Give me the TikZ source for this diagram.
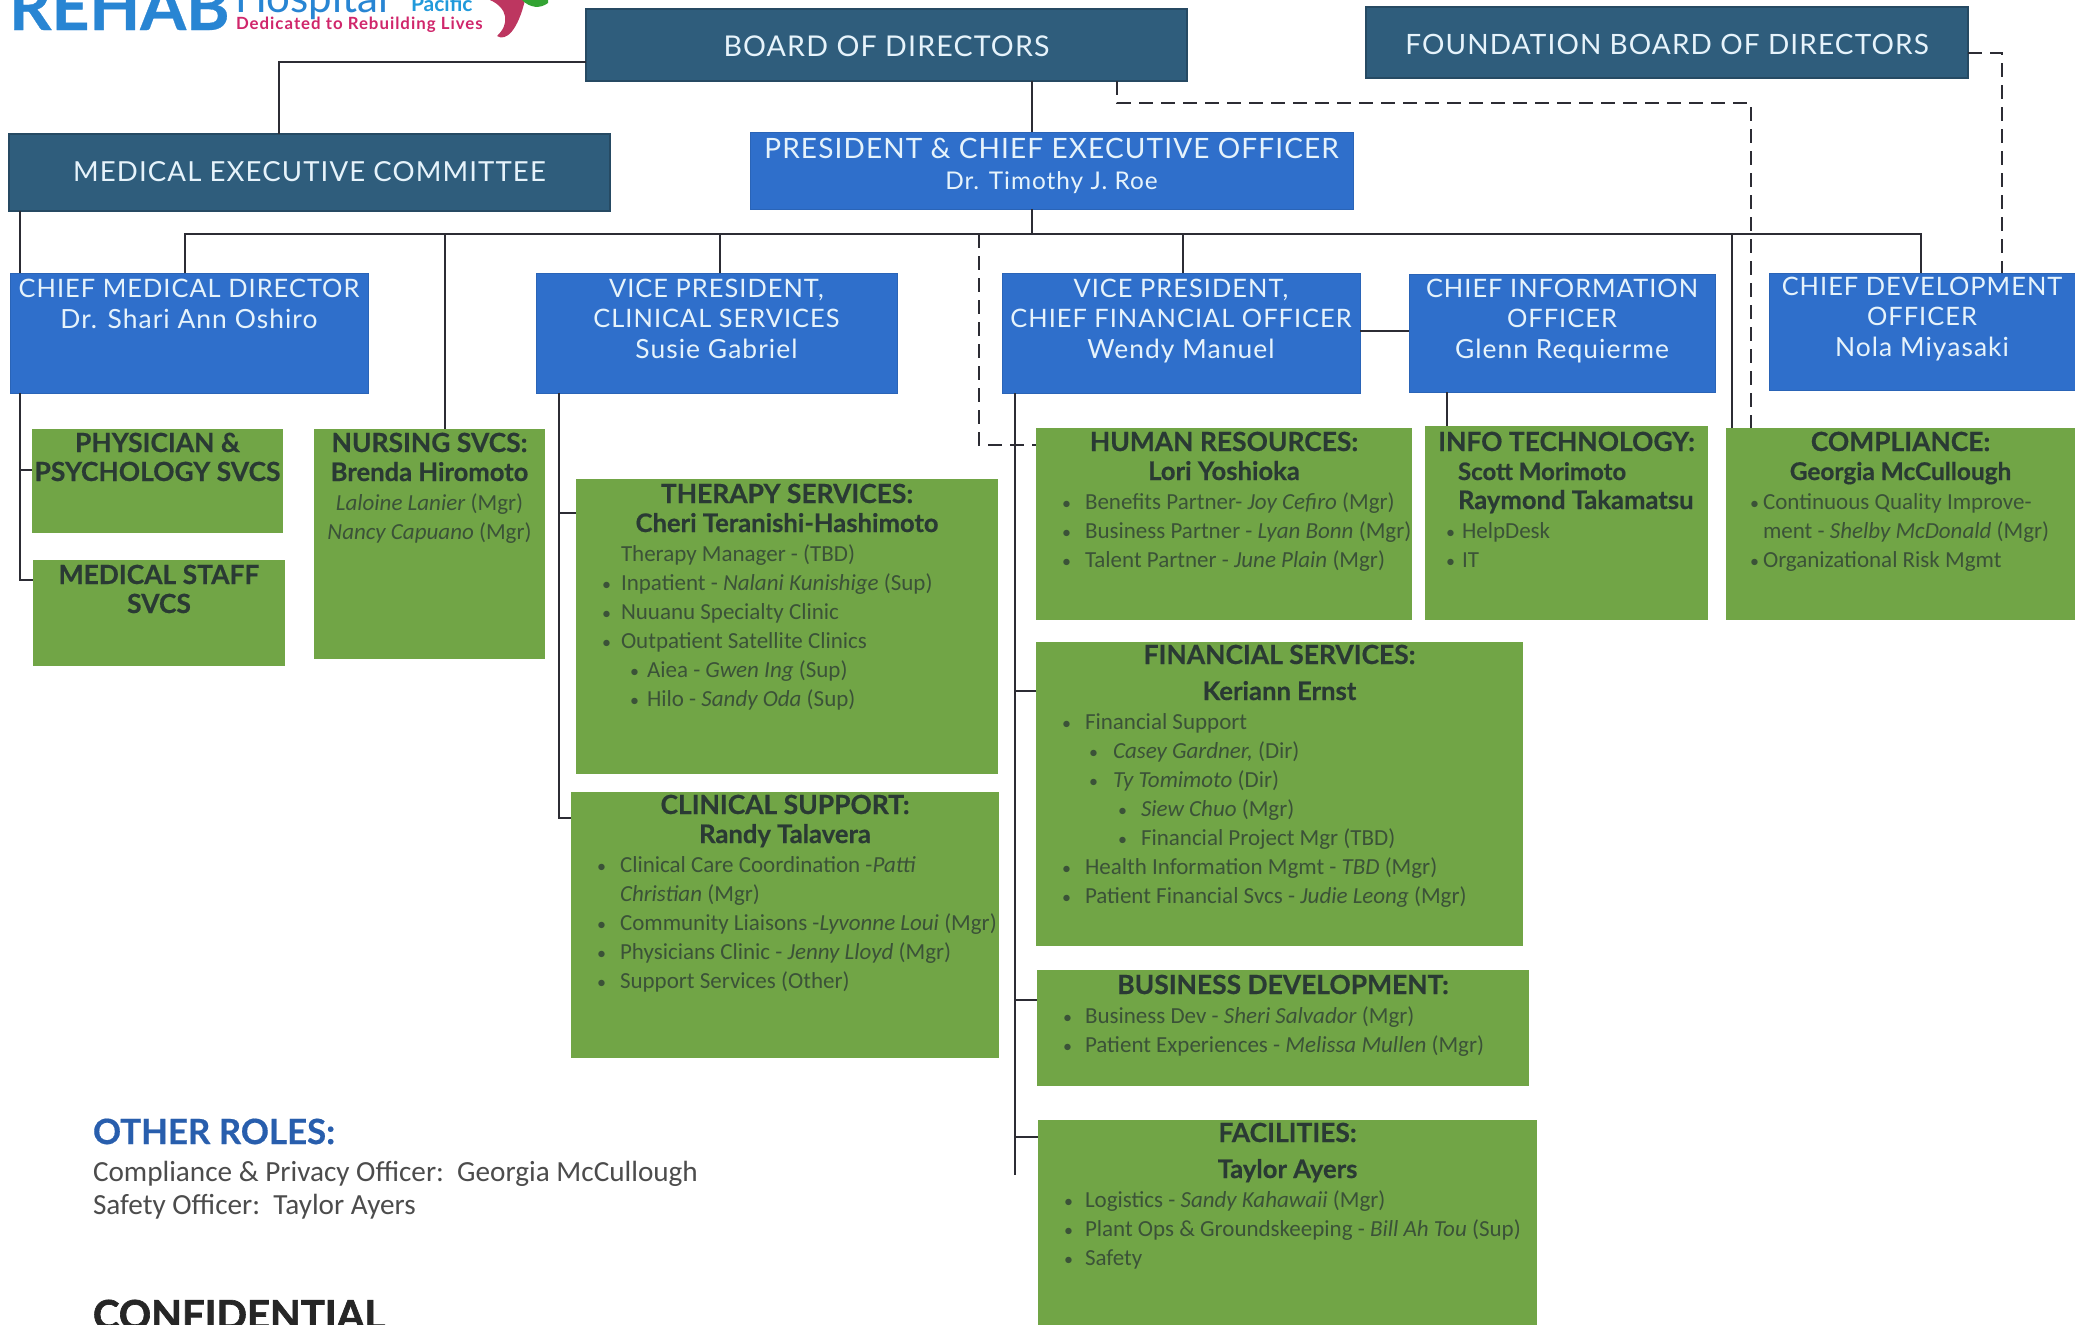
\documentclass[tikz,border=0pt]{standalone}
\usepackage{fontspec}
\setmainfont{Lato}
\newfontfamily\carl{Carlito}
\newfontfamily\heavy{Lato}[BoldFeatures={FakeBold=1.6}]
\newfontfamily\semih{Lato}[BoldFeatures={FakeBold=0.5}]
\usetikzlibrary{calc}
\definecolor{teal1}{HTML}{2F5D7C}
\definecolor{blue1}{HTML}{2F6FCB}
\definecolor{green1}{HTML}{71A546}
\definecolor{lin}{HTML}{2C2C34}
\definecolor{hd}{HTML}{2A3A34}
\definecolor{itm}{HTML}{3B5238}
\definecolor{wt}{HTML}{E6F3FB}
\newlength\pxu \setlength\pxu{0.5pt}
\tikzset{
  boxbase/.style={rectangle,inner sep=0pt,outer sep=0pt,anchor=north west},
  tealbox/.style={boxbase,fill=teal1,draw=teal1!80!black,line width=.6pt},
  bluebox/.style={boxbase,fill=blue1,draw=blue1!90!black,line width=.4pt},
  greenbox/.style={boxbase,fill=green1},
  conn/.style={draw=lin,line width=.95pt},
  dconn/.style={draw=lin,line width=.95pt,dash pattern=on 7pt off 4pt},
  plain/.style={inner sep=0pt,outer sep=0pt,anchor=base west},
}
\def\st{\vrule height 10pt depth 4.5pt width 0pt}
\newcommand{\obox}[7]{\node[#6] (#1) at (#2,#3) {\parbox[c][#5\pxu][t]{#4\pxu}{\baselineskip=14.5pt\lineskiplimit=-100pt\parskip=0pt\parindent=0pt#7}};}
\newcommand{\gp}[1]{\vspace*{#1\pxu}}
\newcommand{\ctr}[1]{\hbox to\linewidth{\hss\st #1\hss}}
\newcommand{\hdl}[1]{\ctr{\semih\fontsize{13.2pt}{14pt}\selectfont\bfseries\color{hd}#1}}
\newcommand{\nml}[2][12.8pt]{\ctr{\semih\fontsize{#1}{14pt}\selectfont\bfseries\color{hd}#2}}
\newcommand{\blu}[2][12.7pt]{\ctr{\fontsize{#1}{14pt}\selectfont\addfontfeature{LetterSpace=4}\color{wt}#2}}
\newcommand{\bul}[3]{\hbox{\st\hspace*{#1\pxu}\carl\fontsize{11.5pt}{14pt}\selectfont\color{itm}\makebox[0pt][l]{\fontsize{9pt}{14pt}\selectfont•}\hspace*{\dimexpr#2\pxu-#1\pxu\relax}#3}}
\newcommand{\pln}[2]{\hbox{\st\hspace*{#1\pxu}\carl\fontsize{11.5pt}{14pt}\selectfont\color{itm}#2}}
\begin{document}
\begin{tikzpicture}[x=0.5pt,y=-0.5pt]
\useasboundingbox (0,0) rectangle (2075,1324);
\clip (0,0) rectangle (2075,1324);
\fill[white] (0,0) rectangle (2075,1324);

% logo
\node[plain,text=blue1!85!cyan] (lrehab) at (9,30) {\semih\fontsize{33pt}{33pt}\selectfont\bfseries REHAB};
\node[plain,text=blue1!85!cyan] (lhosp) at (235,12) {\fontsize{21pt}{21pt}\selectfont Hospital};
\node[plain,text=blue1!70!cyan] (lpac) at (411,11) {\fontsize{10.5pt}{11pt}\selectfont\bfseries Pacific};
\node[plain,text=magenta!70!red!85!black] (ltag) at (236,29) {\fontsize{8.4pt}{9pt}\selectfont\addfontfeature{LetterSpace=6}\bfseries Dedicated to Rebuilding Lives};
\fill[magenta!60!red!75!black] (490,0) .. controls (508,8) and (510,24) .. (497,36) .. controls (506,42) and (518,30) .. (525,0) -- cycle;
\fill[green!55!black!80] (522,0) .. controls (530,8) and (540,9) .. (548,3) -- (548,0) -- cycle;

% top boxes
\obox{board}{586}{9}{601}{72}{tealbox}{\gp{27}\blu[14.3pt]{BOARD OF DIRECTORS}}
\obox{found}{1366}{7}{602}{71}{tealbox}{\gp{27}\blu[14pt]{FOUNDATION BOARD OF DIRECTORS}}
\obox{mec}{9}{134}{601}{77}{tealbox}{\gp{27}\blu[13.8pt]{MEDICAL EXECUTIVE COMMITTEE}}
\obox{pres}{750}{132}{603}{77}{bluebox}{\gp{6}\blu[14pt]{PRESIDENT \& CHIEF EXECUTIVE OFFICER}\gp{2}\blu[12.2pt]{Dr. Timothy J. Roe}}

% executives
\obox{cmd}{10}{273}{358}{120}{bluebox}{\gp{4}\blu{CHIEF MEDICAL DIRECTOR}\gp{2}\blu[13.2pt]{Dr. Shari Ann Oshiro}}
\obox{vpc}{536}{273}{361}{120}{bluebox}{\gp{4}\blu{VICE PRESIDENT,}\gp{1}\blu{CLINICAL SERVICES}\gp{2}\blu[13.2pt]{Susie Gabriel}}
\obox{cfo}{1002}{273}{358}{120}{bluebox}{\gp{4}\blu{VICE PRESIDENT,}\gp{1}\blu{CHIEF FINANCIAL OFFICER}\gp{2}\blu[13.2pt]{Wendy Manuel}}
\obox{cio}{1409}{274}{306}{118}{bluebox}{\gp{3}\blu{CHIEF INFORMATION}\gp{1}\blu{OFFICER}\gp{2}\blu[13.2pt]{Glenn Requierme}}
\obox{cdo}{1769}{273}{306}{117}{bluebox}{\gp{2}\blu{CHIEF DEVELOPMENT}\gp{1}\blu{OFFICER}\gp{2}\blu[13.2pt]{Nola Miyasaki}}

% green boxes
\obox{phys}{32}{429}{251}{104}{greenbox}{\gp{3}\hdl{PHYSICIAN \&}\hdl{PSYCHOLOGY SVCS}}
\obox{mstaff}{33}{560}{252}{106}{greenbox}{\gp{4}\hdl{MEDICAL STAFF}\hdl{SVCS}}
\obox{nurs}{314}{429}{231}{230}{greenbox}{\gp{3}\hdl{NURSING SVCS:}\nml{Brenda Hiromoto}%
 \ctr{\carl\fontsize{11.5pt}{14pt}\selectfont\color{itm}\textit{Laloine Lanier} (Mgr)}%
 \ctr{\carl\fontsize{11.5pt}{14pt}\selectfont\color{itm}\textit{Nancy Capuano} (Mgr)}}
\obox{ther}{576}{479}{422}{295}{greenbox}{\gp{4}\hdl{THERAPY SERVICES:}\nml{Cheri Teranishi-Hashimoto}%
 \pln{45}{Therapy Manager - (TBD)}%
 \bul{26}{45}{Inpatient - \textit{Nalani Kunishige} (Sup)}%
 \bul{26}{45}{Nuuanu Specialty Clinic}%
 \bul{26}{45}{Outpatient Satellite Clinics}%
 \bul{54}{71}{Aiea - \textit{Gwen Ing} (Sup)}%
 \bul{54}{71}{Hilo - \textit{Sandy Oda} (Sup)}}
\obox{clin}{571}{792}{428}{266}{greenbox}{\gp{2}\hdl{CLINICAL SUPPORT:}\nml{Randy Talavera}%
 \bul{26}{49}{Clinical Care Coordination -\textit{Patti}}%
 \pln{49}{\textit{Christian} (Mgr)}%
 \bul{26}{49}{Community Liaisons -\textit{Lyvonne Loui} (Mgr)}%
 \bul{26}{49}{Physicians Clinic - \textit{Jenny Lloyd} (Mgr)}%
 \bul{26}{49}{Support Services (Other)}}
\obox{hr}{1036}{428}{376}{192}{greenbox}{\gp{3}\hdl{HUMAN RESOURCES:}\nml{Lori Yoshioka}%
 \bul{26}{49}{Benefits Partner- \textit{Joy Cefiro} (Mgr)}%
 \bul{26}{49}{Business Partner - \textit{Lyan Bonn} (Mgr)}%
 \bul{26}{49}{Talent Partner - \textit{June Plain} (Mgr)}}
\obox{it}{1425}{426}{283}{194}{greenbox}{\gp{5}\hdl{INFO TECHNOLOGY:}%
 \hbox{\st\hspace*{33\pxu}\semih\fontsize{12pt}{14pt}\selectfont\bfseries\color{hd}Scott Morimoto}%
 \hbox{\st\hspace*{33\pxu}\semih\fontsize{12.8pt}{14pt}\selectfont\bfseries\color{hd}Raymond Takamatsu}%
 \bul{21}{37}{HelpDesk}%
 \bul{21}{37}{IT}}
\obox{comp}{1726}{428}{349}{192}{greenbox}{\gp{3}\hdl{COMPLIANCE:}\nml[12.2pt]{Georgia McCullough}%
 \bul{24}{37}{Continuous Quality Improve-}%
 \pln{37}{ment - \textit{Shelby McDonald} (Mgr)}%
 \bul{24}{37}{Organizational Risk Mgmt}}
\obox{fin}{1036}{642}{487}{304}{greenbox}{\gp{2}\hdl{FINANCIAL SERVICES:}\gp{7}\nml{Keriann Ernst}%
 \bul{26}{49}{Financial Support}%
 \bul{53}{77}{\textit{Casey Gardner,} (Dir)}%
 \bul{53}{77}{\textit{Ty Tomimoto} (Dir)}%
 \bul{82}{105}{\textit{Siew Chuo} (Mgr)}%
 \bul{82}{105}{Financial Project Mgr (TBD)}%
 \bul{26}{49}{Health Information Mgmt - \textit{TBD} (Mgr)}%
 \bul{26}{49}{Patient Financial Svcs - \textit{Judie Leong} (Mgr)}}
\obox{biz}{1037}{970}{492}{116}{greenbox}{\gp{4}\hdl{BUSINESS DEVELOPMENT:}%
 \bul{26}{48}{Business Dev - \textit{Sheri Salvador} (Mgr)}%
 \bul{26}{48}{Patient Experiences - \textit{Melissa Mullen} (Mgr)}}
\obox{fac}{1038}{1120}{499}{220}{greenbox}{\gp{2}\hdl{FACILITIES:}\gp{7}\nml{Taylor Ayers}%
 \bul{26}{47}{Logistics - \textit{Sandy Kahawaii} (Mgr)}%
 \bul{26}{47}{Plant Ops \& Groundskeeping - \textit{Bill Ah Tou} (Sup)}%
 \bul{26}{47}{Safety}}

% other roles
\node[plain,text=blue1!85!black] (oroles) at (93,1144) {\semih\fontsize{17.4pt}{18pt}\selectfont\bfseries OTHER ROLES:};
\node[plain,text=black!70] (oline1) at (93,1181) {\carl\fontsize{14.6pt}{16pt}\selectfont Compliance \& Privacy Officer:\ \ Georgia McCullough};
\node[plain,text=black!70] (oline2) at (93,1214) {\carl\fontsize{14.6pt}{16pt}\selectfont Safety Officer:\ \ Taylor Ayers};
\node[plain,text=black!85] (conf) at (93,1329) {\heavy\fontsize{20pt}{20pt}\selectfont\bfseries CONFIDENTIAL};

% helper coordinates
\coordinate (xmec) at (279,62);
\coordinate (xceo) at (1032,234);
\coordinate (bus) at (185,234);
\coordinate (busend) at (1921,234);
\coordinate (xnurs) at (445,234);
\coordinate (xvpc) at (720,234);
\coordinate (xcfo) at (1183,234);
\coordinate (xcomp) at (1732,234);
\coordinate (xdash) at (979,234);
\coordinate (dashelb) at (979,445);
\coordinate (xl) at (20,0);
\coordinate (physy) at (20,470);
\coordinate (msty) at (20,580);
\coordinate (xvl) at (559,0);
\coordinate (thy) at (559,513);
\coordinate (cly) at (559,818);
\coordinate (xfl) at (1015,0);
\coordinate (fiy) at (1015,691);
\coordinate (biy) at (1015,1000);
\coordinate (fay) at (1015,1137);
\coordinate (fend) at (1015,1175);
\coordinate (xcio) at (1447,0);
\coordinate (bd) at (1117,103);
\coordinate (bdr) at (1751,103);
\coordinate (fdr) at (2002,53);

% solid connectors
\draw[conn] (board.west |- xmec) -- (xmec) -- (mec.north -| xmec);
\draw[conn] (board.south -| xceo) -- (pres.north -| xceo);
\draw[conn] (pres.south -| xceo) -- (xceo);
\draw[conn] (cmd.north -| bus) -- (bus) -- (busend) -- (cdo.north -| busend);
\draw[conn] (xnurs) -- (nurs.north -| xnurs);
\draw[conn] (xvpc) -- (vpc.north -| xvpc);
\draw[conn] (xcfo) -- (cfo.north -| xcfo);
\draw[conn] (xcomp) -- (comp.north -| xcomp);
\draw[conn] (mec.south -| xl) -- (cmd.north -| xl);
\draw[conn] (cmd.south -| xl) -- (msty) -- (mstaff.west |- msty);
\draw[conn] (physy) -- (phys.west |- physy);
\draw[conn] (vpc.south -| xvl) -- (cly) -- (clin.west |- cly);
\draw[conn] (thy) -- (ther.west |- thy);
\draw[conn] (cfo.south -| xfl) -- (fend);
\draw[conn] (fiy) -- (fin.west |- fiy);
\draw[conn] (biy) -- (biz.west |- biy);
\draw[conn] (fay) -- (fac.west |- fay);
\draw[conn,line width=1.4pt] (cfo.east) ++(0,-2) -- (cio.west |- {$(cfo.east)+(0,-2)$});
\draw[conn] (cio.south -| xcio) -- (it.north -| xcio);
% dashed connectors
\draw[dconn] (xdash) -- (dashelb) -- (hr.west |- dashelb);
\draw[dconn,line width=1.2pt] (board.south -| bd) -- (bd) -- (bdr) -- (comp.north -| bdr);
\draw[dconn] (found.east |- fdr) -- (fdr) -- (cdo.north -| fdr);
\end{tikzpicture}
\end{document}
